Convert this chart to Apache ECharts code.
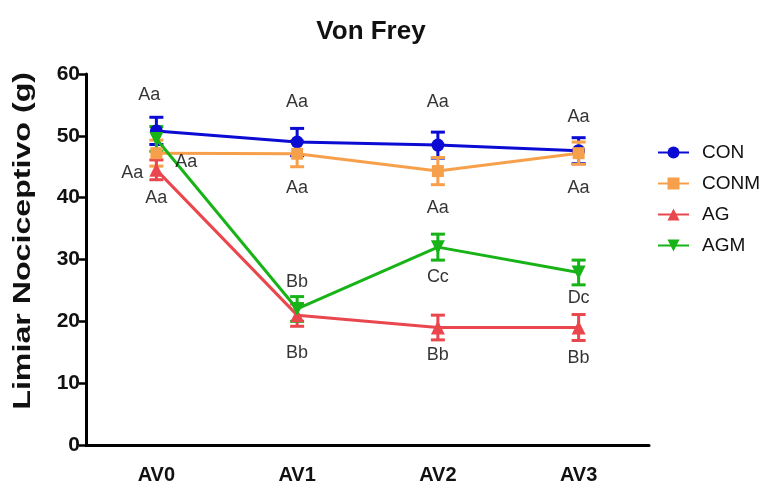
<!DOCTYPE html>
<html>
<head>
<meta charset="utf-8">
<script src="https://cdn.jsdelivr.net/npm/echarts@6/dist/echarts.min.js"></script>
<style>
  html, body { margin: 0; padding: 0; background: #fff; }
  #chart { width: 769px; height: 492px; }
</style>
</head>
<body>
<div id="chart"></div>
<script>
// Von Frey mechanical threshold (g), mean ± SEM per evaluation
const categories = ['AV0', 'AV1', 'AV2', 'AV3'];
const yTicks = [0, 10, 20, 30, 40, 50, 60];

const conMean  = [50.8, 49.0, 48.5, 47.6];
const conSem   = [2.2, 2.2, 2.1, 2.1];
const conmMean = [47.2, 47.1, 44.3, 47.2];
const conmSem  = [2.1, 2.1, 2.2, 1.8];
const agMean   = [44.5, 21.0, 19.0, 19.0];
const agSem    = [1.6, 1.8, 2.0, 2.1];
const agmMean  = [49.5, 22.0, 32.0, 27.9];
const agmSem   = [2.0, 2.0, 2.1, 2.0];

// Significance letters: [evaluation, threshold level, letters]
const letterMarks = [
  ['AV0', 56.6, 'Aa'], ['AV0', 44.0, 'Aa'], ['AV0', 45.8, 'Aa'], ['AV0', 40.0, 'Aa'],
  ['AV1', 55.4, 'Aa'], ['AV1', 41.6, 'Aa'], ['AV1', 26.4, 'Bb'], ['AV1', 14.9, 'Bb'],
  ['AV2', 55.4, 'Aa'], ['AV2', 38.3, 'Aa'], ['AV2', 27.2, 'Cc'], ['AV2', 14.6, 'Bb'],
  ['AV3', 53.1, 'Aa'], ['AV3', 41.6, 'Aa'], ['AV3', 23.8, 'Dc'], ['AV3', 14.1, 'Bb']
];
// horizontal nudges so the AV0 letters do not overlap
const letterShift = [-7, -24, 30, 0, 0, 0, 0, 0, 0, 0, 0, 0, 0, 0, 0, 0];

const groups = [
  { name: 'CON',  mean: conMean,  sem: conSem,  color: '#0b0bd3', symbol: 'circle',   size: 13, rotate: 0 },
  { name: 'CONM', mean: conmMean, sem: conmSem, color: '#f7a04b', symbol: 'rect',     size: 12, rotate: 0 },
  { name: 'AG',   mean: agMean,   sem: agSem,   color: '#e9474d', symbol: 'triangle', size: 14, rotate: 0 },
  { name: 'AGM',  mean: agmMean,  sem: agmSem,  color: '#17b317', symbol: 'triangle', size: 14, rotate: 180 }
];

const FONT = '"Liberation Sans", Arial, Helvetica, sans-serif';

function errorBarRenderer(color) {
  return function (params, api) {
    const x = api.value(0);
    const lo = api.coord([x, api.value(1)]);
    const hi = api.coord([x, api.value(2)]);
    const half = 7;
    const style = { stroke: color, lineWidth: 3, fill: null };
    return {
      type: 'group',
      children: [
        { type: 'line', shape: { x1: lo[0], y1: lo[1], x2: hi[0], y2: hi[1] }, style: style },
        { type: 'line', shape: { x1: lo[0] - half, y1: lo[1], x2: lo[0] + half, y2: lo[1] }, style: style },
        { type: 'line', shape: { x1: hi[0] - half, y1: hi[1], x2: hi[0] + half, y2: hi[1] }, style: style }
      ]
    };
  };
}

const series = [];
groups.forEach(function (g) {
  series.push({
    name: g.name,
    type: 'line',
    data: g.mean,
    symbol: g.symbol,
    symbolSize: g.size,
    symbolRotate: g.rotate,
    showSymbol: true,
    color: g.color,
    lineStyle: { color: g.color, width: 3 },
    itemStyle: { color: g.color },
    z: 4
  });
});
groups.forEach(function (g) {
  series.push({
    name: g.name + ' SEM',
    type: 'custom',
    color: g.color,
    renderItem: errorBarRenderer(g.color),
    data: g.mean.map(function (m, i) { return [i, m - g.sem[i], m + g.sem[i]]; }),
    encode: { x: 0, y: [1, 2] },
    z: 3,
    silent: true
  });
});

series.push({
  name: 'letters',
  type: 'scatter',
  symbolSize: 0,
  silent: true,
  z: 6,
  data: letterMarks.map(function (d, i) {
    return {
      value: [d[0], d[1]],
      label: {
        show: true, formatter: d[2], position: 'inside', offset: [letterShift[i], 0],
        color: '#000', fontFamily: FONT, fontSize: 18
      }
    };
  }),
  label: { show: true, color: '#000', fontFamily: FONT, fontSize: 18, textBorderWidth: 0 }
});

const chart = echarts.init(document.getElementById('chart'), null, { renderer: 'canvas' });
chart.setOption({
  animation: false,
  backgroundColor: '#ffffff',
  title: {
    text: 'Von Frey',
    left: 366,
    top: 14,
    textAlign: 'center',
    textStyle: { fontFamily: FONT, fontWeight: 'bold', fontSize: 26, color: '#111' }
  },
  graphic: [{
    type: 'text',
    left: 11,
    top: 72,
    rotation: Math.PI / 2,
    scaleX: 1.34,
    style: {
      text: 'Limiar Nociceptivo (g)',
      font: 'bold 24px ' + FONT,
      fill: '#111'
    }
  }],
  legend: {
    data: groups.map(function (g) { return g.name; }),
    orient: 'vertical',
    left: 652,
    top: 138,
    itemWidth: 31,
    itemHeight: 15,
    itemGap: 12,
    textStyle: { fontFamily: FONT, fontSize: 19, color: '#111', padding: [0, 0, 0, 8] }
  },
  grid: { left: 86, right: 120, top: 74, bottom: 47 },
  xAxis: {
    type: 'category',
    data: categories,
    boundaryGap: true,
    axisLine: { lineStyle: { color: '#000', width: 3 } },
    axisTick: { alignWithLabel: true, length: 9, lineStyle: { color: '#000', width: 2.5 } },
    axisLabel: { margin: 20, fontFamily: FONT, fontWeight: 'bold', fontSize: 20, color: '#111' }
  },
  yAxis: {
    type: 'value',
    min: yTicks[0],
    max: yTicks[yTicks.length - 1],
    interval: 10,
    splitLine: { show: false },
    axisLine: { show: true, lineStyle: { color: '#000', width: 3 } },
    axisTick: { show: true, length: 7, lineStyle: { color: '#000', width: 2.5 } },
    axisLabel: { margin: 6, fontFamily: FONT, fontWeight: 'bold', fontSize: 21, color: '#111' }
  },
  series: series
});
</script>
</body>
</html>
